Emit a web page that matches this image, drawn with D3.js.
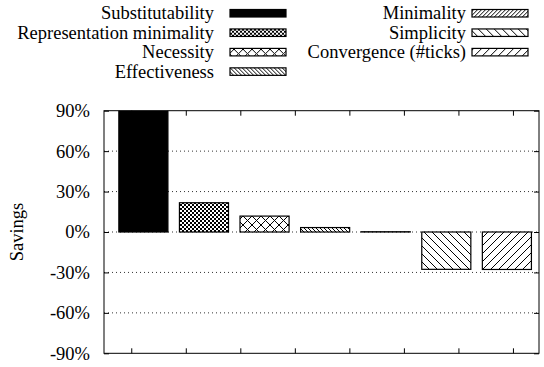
<!DOCTYPE html>
<html>
<head>
<meta charset="utf-8">
<script src="https://cdn.jsdelivr.net/npm/d3@7"></script>
<style>
  body { margin: 0; background: #fff; }
  text { font-family: "Liberation Serif", "Times New Roman", serif; font-size: 18.5px; fill: #000; }
</style>
</head>
<body>
<div id="chart"></div>
<script>
const categories = ["Substitutability", "Representation minimality", "Necessity", "Effectiveness",
  "Minimality", "Simplicity", "Convergence (#ticks)"];
const savings = [95, 21.7, 11.8, 3.3, 0.2, -27.7, -27.8];
const patterns = ["solid", "checker", "cross", "backDense", "fwdDense", "backSparse", "fwdSparse"];
const yTicks = [-90, -60, -30, 0, 30, 60, 90];
const gridTicks = [-60, -30, 0, 30, 60];
const xTickPos = [-0.2, 0.7, 1.6, 2.5, 3.4, 4.3, 5.2, 6.1];

let width = 544, height = 367;
let plotLeft = 104, plotRight = 539, plotTop = 110.7, plotBottom = 353.3;

let svg = d3.select("#chart").append("svg")
  .attr("width", width)
  .attr("height", height);

let defs = svg.append("defs");

// hatch patterns
function hatch(id, w, d) {
  let p = defs.append("pattern").attr("id", id)
    .attr("patternUnits", "userSpaceOnUse")
    .attr("width", w).attr("height", w);
  p.append("rect").attr("width", w).attr("height", w).attr("fill", "#fff");
  p.append("path").attr("d", d).attr("stroke", "#000").attr("stroke-width", 1).attr("fill", "none");
}
function fwd(w) { return `M0,${w} L${w},0 M-1,1 L1,-1 M${w - 1},${w + 1} L${w + 1},${w - 1}`; }
function back(w) { return `M0,0 L${w},${w} M-1,${w - 1} L1,${w + 1} M${w - 1},-1 L${w + 1},1`; }

hatch("fwdDense", 4, fwd(4));
hatch("backDense", 4, back(4));
hatch("fwdSparse", 8, fwd(8));
hatch("backSparse", 8, back(8));
hatch("cross", 9, fwd(9) + " " + back(9));

let ck = defs.append("pattern").attr("id", "checker")
  .attr("patternUnits", "userSpaceOnUse").attr("width", 4).attr("height", 4);
ck.append("rect").attr("width", 4).attr("height", 4).attr("fill", "#fff");
ck.append("rect").attr("width", 2).attr("height", 2).attr("fill", "#000");
ck.append("rect").attr("x", 2).attr("y", 2).attr("width", 2).attr("height", 2).attr("fill", "#000");

function fillFor(p) { return p === "solid" ? "#000" : "url(#" + p + ")"; }

defs.append("clipPath").attr("id", "plotClip")
  .append("rect").attr("x", plotLeft).attr("y", plotTop)
  .attr("width", plotRight - plotLeft).attr("height", plotBottom - plotTop);

let x = d3.scaleLinear().domain([-0.65, 6.53]).range([plotLeft, plotRight]);
let y = d3.scaleLinear().domain([-90, 90]).range([plotBottom, plotTop]);
let barW = 0.81;

// grid
svg.append("g").selectAll("line")
  .data(gridTicks)
  .join("line")
  .attr("x1", plotLeft).attr("x2", plotRight)
  .attr("y1", d => y(d)).attr("y2", d => y(d))
  .attr("stroke", "#000")
  .attr("stroke-width", 0.8)
  .attr("stroke-dasharray", "1,3");

// bars
svg.append("g").attr("clip-path", "url(#plotClip)")
  .selectAll("rect")
  .data(savings)
  .join("rect")
  .attr("x", (d, i) => x(i - barW / 2))
  .attr("width", x(barW) - x(0))
  .attr("y", d => y(Math.max(0, d)))
  .attr("height", d => Math.abs(y(d) - y(0)))
  .attr("fill", (d, i) => fillFor(patterns[i]))
  .attr("stroke", "#000")
  .attr("stroke-width", 1.2);

// y axis ticks + labels
let yAxisL = d3.axisLeft(y).tickValues(yTicks).tickSize(-5).tickPadding(14)
  .tickFormat(d => d + "%");
let gy = svg.append("g").attr("transform", `translate(${plotLeft},0)`).call(yAxisL);
gy.select(".domain").remove();
gy.selectAll("text").style("font-family", "Liberation Serif").style("font-size", "18.5px");
let gyR = svg.append("g").attr("transform", `translate(${plotRight},0)`)
  .call(d3.axisRight(y).tickValues(yTicks).tickSize(-5).tickFormat(""));
gyR.select(".domain").remove();

// x ticks, top and bottom, inward
let gxB = svg.append("g").attr("transform", `translate(0,${plotBottom})`)
  .call(d3.axisBottom(x).tickValues(xTickPos).tickSize(-5).tickFormat(""));
gxB.select(".domain").remove();
let gxT = svg.append("g").attr("transform", `translate(0,${plotTop})`)
  .call(d3.axisTop(x).tickValues(xTickPos).tickSize(-5).tickFormat(""));
gxT.select(".domain").remove();

// frame
svg.append("rect")
  .attr("x", plotLeft).attr("y", plotTop)
  .attr("width", plotRight - plotLeft).attr("height", plotBottom - plotTop)
  .attr("fill", "none").attr("stroke", "#000").attr("stroke-width", 1);

// y label
svg.append("text")
  .attr("transform", `translate(23,${(plotTop + plotBottom) / 2}) rotate(-90)`)
  .attr("text-anchor", "middle")
  .text("Savings");

// legend, two columns
let legendCols = [{ textX: 214, swX: 230 }, { textX: 466, swX: 472 }];
let legend = svg.append("g").selectAll("g")
  .data(categories)
  .join("g")
  .attr("transform", (d, i) => {
    let row = i < 4 ? i : i - 4;
    return `translate(0,${19.3 + row * 19.45})`;
  });
legend.append("text")
  .attr("x", (d, i) => legendCols[i < 4 ? 0 : 1].textX)
  .attr("y", 0)
  .attr("text-anchor", "end")
  .text(d => d);
legend.append("rect")
  .attr("x", (d, i) => legendCols[i < 4 ? 0 : 1].swX)
  .attr("y", -9.8)
  .attr("width", 56).attr("height", 7.5)
  .attr("fill", (d, i) => fillFor(patterns[i]))
  .attr("stroke", "#000")
  .attr("stroke-width", 1.2);
</script>
</body>
</html>
